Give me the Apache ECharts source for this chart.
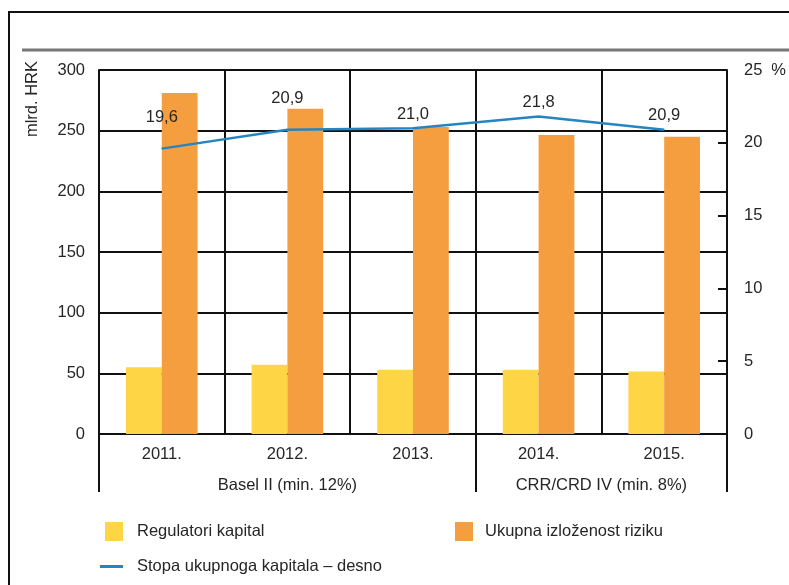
<!DOCTYPE html>
<html>
<head>
<meta charset="utf-8">
<script src="https://cdn.jsdelivr.net/npm/echarts@6/dist/echarts.min.js"></script>
<style>
  html, body { margin: 0; padding: 0; background: #fff; }
  #chart { width: 789px; height: 585px; }
</style>
</head>
<body>
<div id="chart"></div>
<script>
var years = ['2011.', '2012.', '2013.', '2014.', '2015.'];
var regKapital = [55, 57, 53, 53, 51.5];
var izlozenost = [281, 268, 253, 246.5, 245];
var stopa = [19.6, 20.9, 21.0, 21.8, 20.9];
var regimes = ['Basel II (min. 12%)', 'CRR/CRD IV (min. 8%)'];
var regimeSpans = [3, 2];

var FONT = '"Liberation Sans", Arial, sans-serif';
var FS = 16.5;
var TXT = '#262626';

// granice i sredine skupina (Basel II / CRR)
var bounds = [0], mids = [];
regimeSpans.forEach(function (s) {
    var b = bounds[bounds.length - 1];
    mids.push(b + s / 2);
    bounds.push(b + s);
});

var chart = echarts.init(document.getElementById('chart'));
chart.setOption({
    animation: false,
    textStyle: { fontFamily: FONT },
    grid: { left: 99, right: 61, top: 70, bottom: 151 },
    graphic: [
        { type: 'rect', shape: { x: 9, y: 12, width: 800, height: 600 },
          style: { fill: 'none', stroke: '#111', lineWidth: 2 } },
        { type: 'line', shape: { x1: 22, y1: 50, x2: 789, y2: 50 },
          style: { stroke: '#777', lineWidth: 3 } },
        { type: 'text', x: 32, y: 61, rotation: Math.PI / 2,
          style: { text: 'mlrd. HRK', fill: TXT, font: FS + 'px ' + FONT,
                   align: 'right', verticalAlign: 'middle' } }
    ],
    legend: [
        { data: ['Regulatori kapital'], icon: 'rect', left: 100, top: 517, itemWidth: 18, itemHeight: 19,
          textStyle: { fontSize: FS, color: TXT, fontFamily: FONT, padding: [0, 0, 0, 9] } },
        { data: ['Ukupna izloženost riziku'], icon: 'rect', left: 450, top: 517, itemWidth: 18, itemHeight: 19,
          textStyle: { fontSize: FS, color: TXT, fontFamily: FONT, padding: [0, 0, 0, 7] } },
        { data: ['Stopa ukupnoga kapitala – desno'], icon: 'rect', left: 95, top: 553, itemWidth: 23, itemHeight: 3,
          textStyle: { fontSize: FS, color: TXT, fontFamily: FONT, padding: [0, 0, 0, 9] } }
    ],
    xAxis: [
        {
            type: 'category',
            data: years,
            axisLine: { show: true, lineStyle: { color: '#111', width: 2 } },
            axisTick: { show: false },
            axisLabel: { margin: 12, fontSize: FS, color: TXT, fontFamily: FONT },
            splitLine: { show: true, interval: 0, lineStyle: { color: '#111', width: 2 } }
        },
        {
            type: 'value',
            position: 'bottom',
            min: 0,
            max: years.length,
            axisLine: { show: false },
            splitLine: { show: false },
            axisTick: { show: true, customValues: bounds, length: 58,
                        lineStyle: { color: '#111', width: 2 } },
            axisLabel: {
                customValues: mids, margin: 43, fontSize: FS, color: TXT, fontFamily: FONT,
                formatter: function (v) { return regimes[mids.indexOf(v)]; }
            }
        }
    ],
    yAxis: [
        {
            type: 'value',
            min: 0, max: 300, interval: 50,
            axisLine: { show: true, lineStyle: { color: '#111', width: 2 } },
            axisTick: { show: false },
            axisLabel: { margin: 14, fontSize: FS, color: TXT, fontFamily: FONT },
            splitLine: { show: true, lineStyle: { color: '#111', width: 2 } }
        },
        {
            type: 'value',
            position: 'right',
            min: 0, max: 25, interval: 5,
            axisLine: { show: true, lineStyle: { color: '#111', width: 2 } },
            axisTick: { show: true, inside: true, length: 9, lineStyle: { color: '#111', width: 2 } },
            splitLine: { show: false },
            axisLabel: {
                margin: 17, fontSize: FS, color: TXT, fontFamily: FONT,
                formatter: function (v) { return v === 25 ? '25{u|%}' : String(v); },
                rich: { u: { fontSize: FS, color: TXT, fontFamily: FONT, padding: [0, 0, 0, 9] } }
            }
        }
    ],
    series: [
        {
            name: 'Regulatori kapital',
            type: 'bar',
            data: regKapital,
            barGap: 0,
            barCategoryGap: '43%',
            itemStyle: { color: '#FED545' }
        },
        {
            name: 'Ukupna izloženost riziku',
            type: 'bar',
            data: izlozenost,
            itemStyle: { color: '#F59E3F' }
        },
        {
            name: 'Stopa ukupnoga kapitala – desno',
            type: 'line',
            yAxisIndex: 1,
            symbol: 'circle',
            symbolSize: 1,
            showSymbol: true,
            lineStyle: { color: '#2585C2', width: 2.5 },
            itemStyle: { color: '#2585C2' },
            data: stopa.map(function (v, i) {
                // prve dvije oznake podignute iznad stupaca
                return { value: v, label: { distance: i < 2 ? 22 : 5 } };
            }),
            label: {
                show: true, position: 'top', fontSize: FS, color: TXT, fontFamily: FONT,
                formatter: function (p) { return p.value.toFixed(1).replace('.', ','); }
            }
        }
    ]
});
</script>
</body>
</html>
